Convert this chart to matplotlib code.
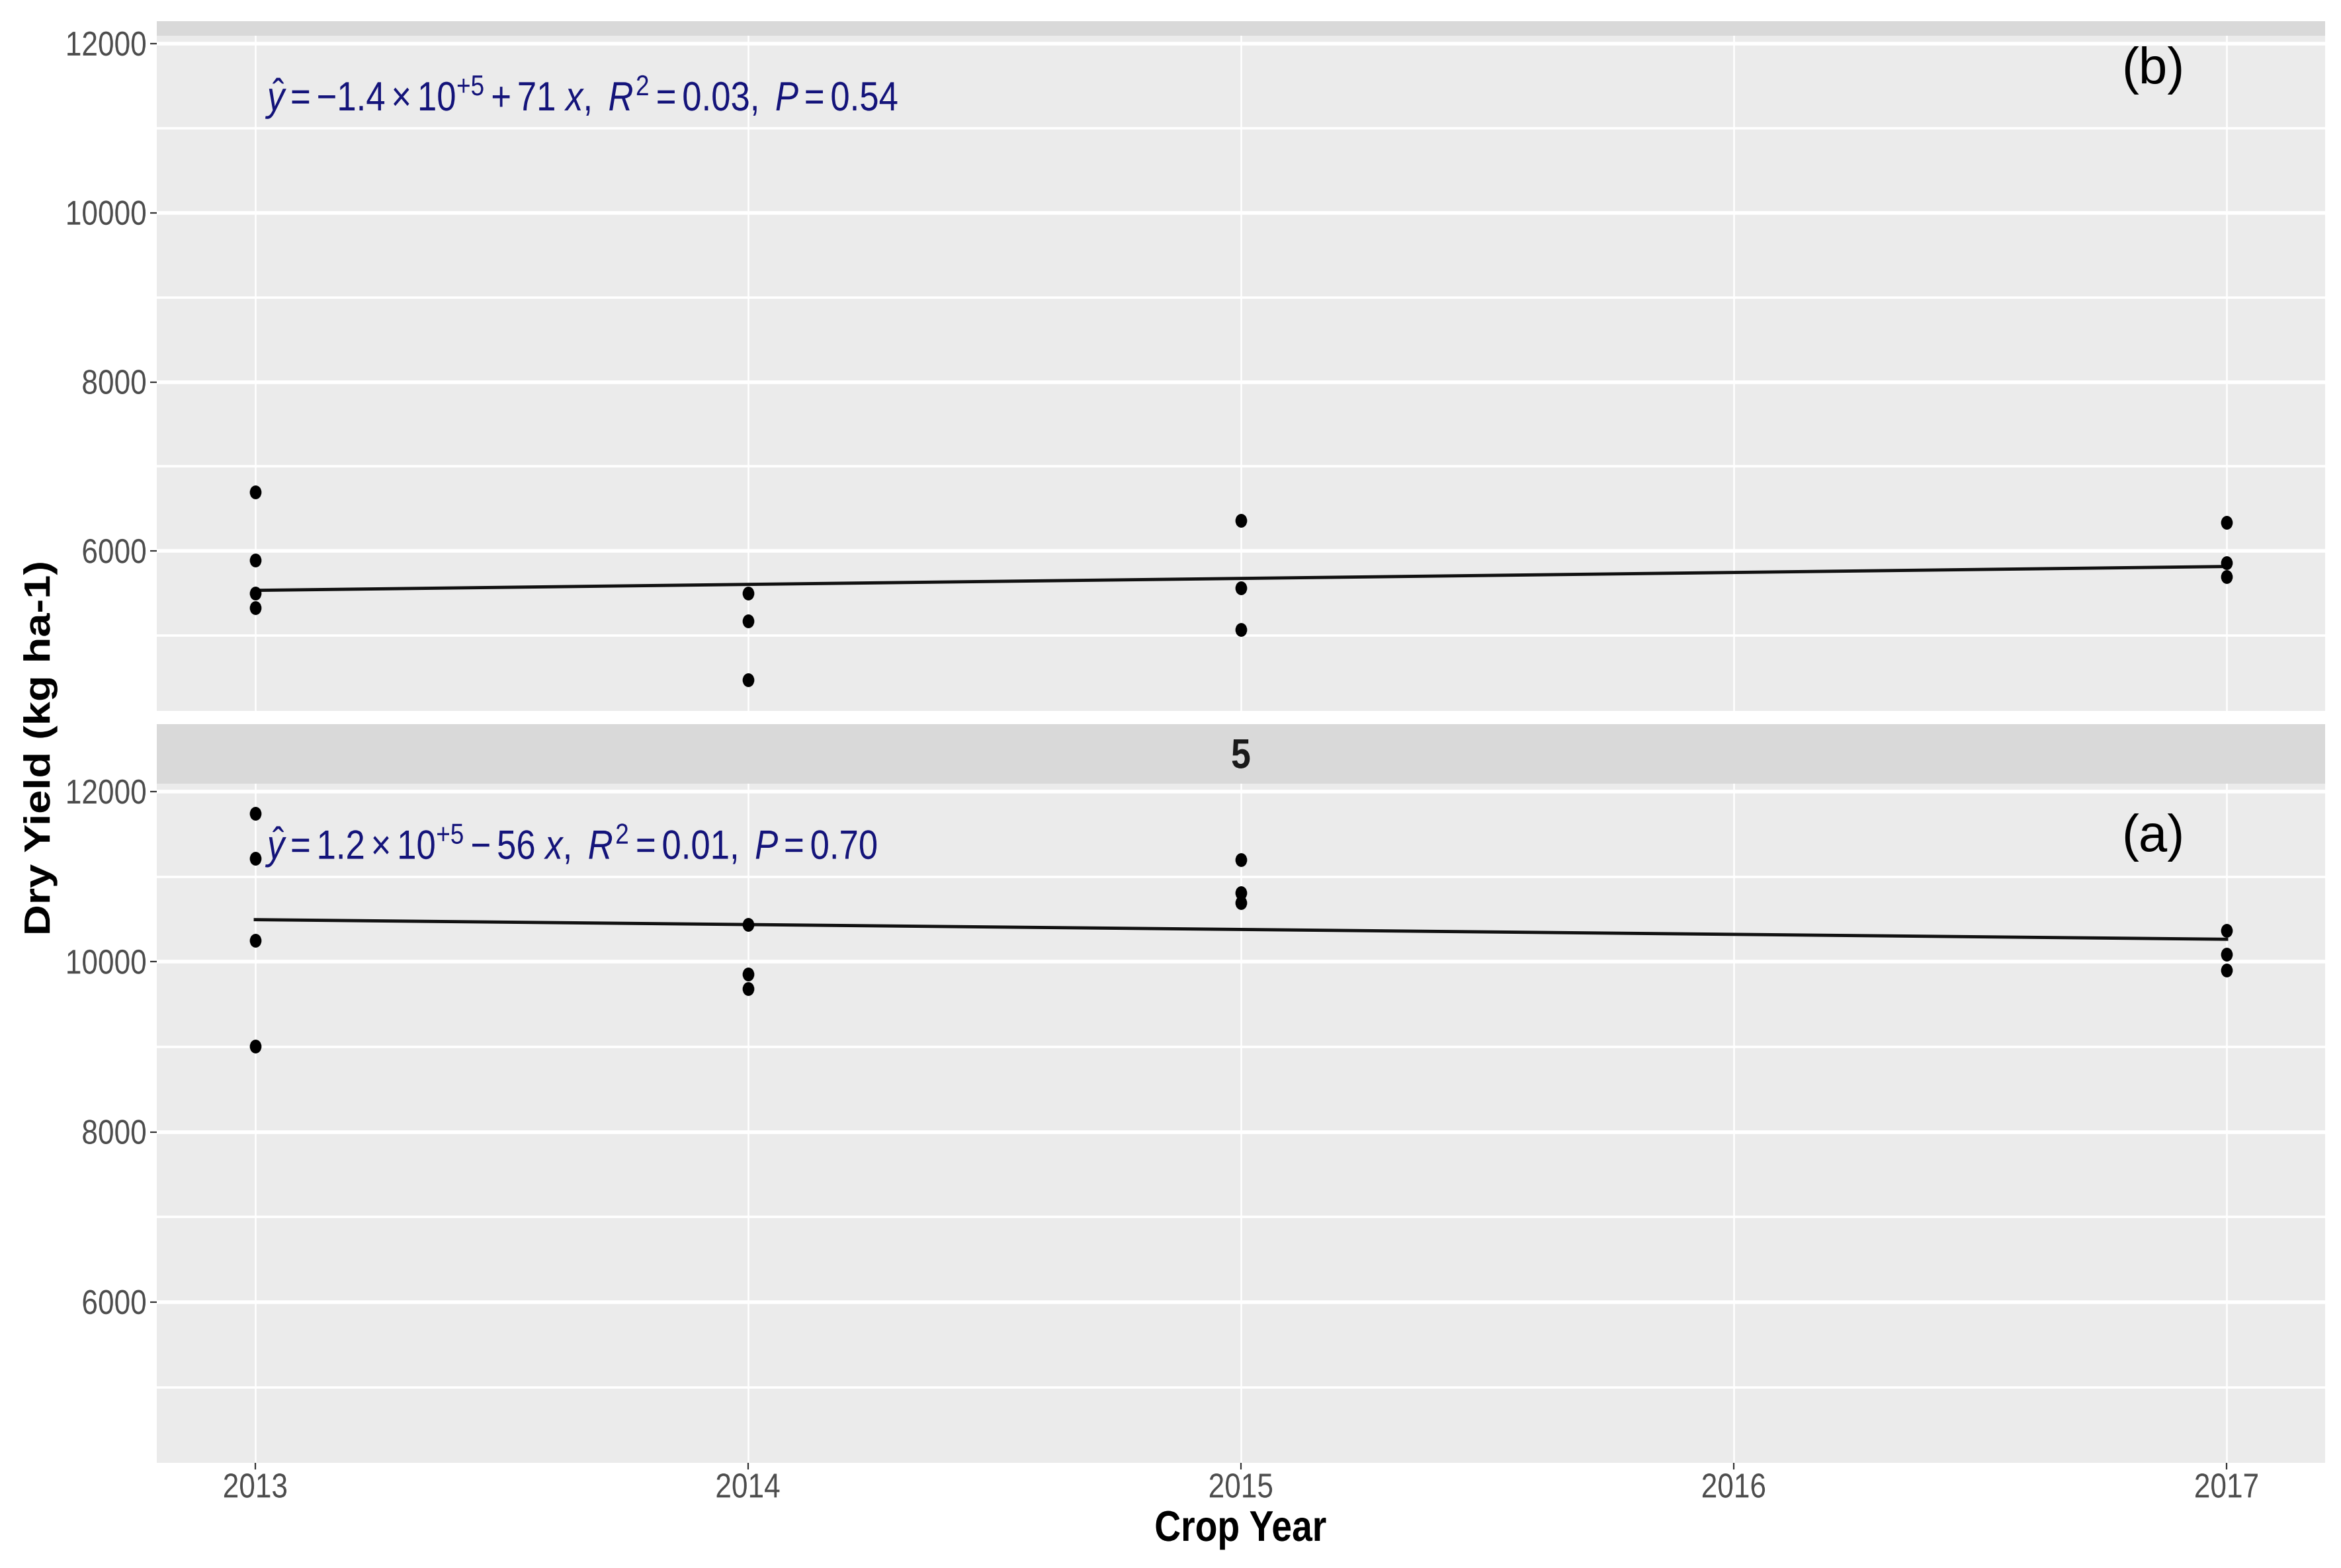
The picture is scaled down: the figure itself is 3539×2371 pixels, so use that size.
import numpy as np
import matplotlib
matplotlib.use('Agg')
import matplotlib.pyplot as plt
import matplotlib.font_manager as fm
from matplotlib.path import Path
from matplotlib.textpath import TextPath
from matplotlib.patches import PathPatch
from matplotlib.transforms import Affine2D, IdentityTransform
from matplotlib.ticker import FixedLocator

# values
years_b = [2013, 2013, 2013, 2013, 2014, 2014, 2014, 2015, 2015, 2015, 2017, 2017, 2017]
yield_b = [6695, 5891, 5500, 5328, 5500, 5172, 4477, 6359, 5563, 5070, 6336, 5859, 5695]
years_a = [2013, 2013, 2013, 2013, 2014, 2014, 2014, 2015, 2015, 2015, 2017, 2017, 2017]
yield_a = [11743, 11214, 10249, 9004, 10436, 9852, 9681, 11198, 10809, 10693, 10366, 10086, 9899]

eq_b = r'$\hat{y} = -1.4\times10^{+5}+71\ x,\ R^{2} = 0.03,\ P = 0.54$'
eq_a = r'$\hat{y} = 1.2\times10^{+5}-56\ x,\ R^{2} = 0.01,\ P = 0.70$'
strip_label = '5'
year_ticks = [2013, 2014, 2015, 2016, 2017]
yield_ticks = [6000, 8000, 10000, 12000]
yield_minor = [5000, 7000, 9000, 11000]

base = 'Liberation Sans'
plt.rcParams['font.family'] = [base, 'DejaVu Sans']
plt.rcParams['mathtext.fontset'] = 'custom'
plt.rcParams['mathtext.rm'] = base
plt.rcParams['mathtext.it'] = base + ':italic'
plt.rcParams['mathtext.bf'] = base + ':bold'

SQ = 0.85  # the original picture is squeezed sideways, text included

# slightly tall dot, like the stretched original
circ = Path.unit_circle()
dot = Path(circ.vertices * np.array([0.85, 1.0]), circ.codes)

W, H = 3539, 2371
fig = plt.figure(figsize=(W / 100, H / 100), dpi=100, facecolor='white')

def px_axes(x0, y0, x1, y1):
    return fig.add_axes([x0 / W, 1 - y1 / H, (x1 - x0) / W, (y1 - y0) / H])

def squeezed(x, y, s, em, ha='left', va='baseline', color='black', weight='normal', rotation=0):
    # x, y in output pixels, origin bottom-left
    prop = fm.FontProperties(family=base, weight=weight)
    p = TextPath((0, 0), s, size=em, prop=prop)
    p = Affine2D().rotate_deg(rotation).scale(SQ, 1).transform_path(p)
    ext = p.get_extents()
    dx = {'left': -ext.x0, 'right': -ext.x1, 'center': -(ext.x0 + ext.x1) / 2}[ha]
    dy = {'baseline': 0, 'center': -(ext.y0 + ext.y1) / 2, 'top': -ext.y1, 'bottom': -ext.y0}[va]
    p = Affine2D().translate(x + dx, y + dy).transform_path(p)
    fig.add_artist(PathPatch(p, transform=IdentityTransform(), fc=color, ec='none', lw=0))

def strip(ax):
    ax.set_facecolor('#D9D9D9')
    ax.set_xticks([])
    ax.set_yticks([])
    for s in ax.spines.values():
        s.set_visible(False)

def panel(ax, years, yields, eq, tag, tag_y):
    ax.set_facecolor('#EBEBEB')
    for s in ax.spines.values():
        s.set_visible(False)
    ax.set_xlim(2012.8, 2017.2)
    ax.set_ylim(4110, 12094)
    ax.set_xticks(year_ticks)
    ax.set_yticks(yield_ticks)
    ax.yaxis.set_minor_locator(FixedLocator(yield_minor))
    ax.grid(which='major', axis='y', color='white', lw=4)
    ax.grid(which='minor', axis='y', color='white', lw=2.6)
    ax.grid(which='major', axis='x', color='white', lw=1.8)
    ax.set_axisbelow(True)
    ax.tick_params(which='minor', length=0)
    ax.tick_params(which='major', length=7, width=1.6, color='#333333',
                   labelleft=False, labelbottom=False)

    coef = np.polyfit(years, yields, 1)
    xs = np.array([min(years), max(years)])
    ax.plot(xs, np.polyval(coef, xs), color='#111111', lw=3.5, zorder=2)
    ax.plot(years, yields, ls='none', marker=dot, ms=15, mfc='black', mec='black',
            mew=0, zorder=3)

    ax.text(2016.85, tag_y, tag, fontsize=56, color='black', ha='center', va='baseline')

    # y tick labels and the fit equation
    for v in yield_ticks:
        _, yd = ax.transData.transform((2013, v))
        squeezed(220, yd, str(v), 52, ha='right', va='center', color='#4D4D4D')
    ex, ey = ax.transData.transform((2013.02, 11210))
    squeezed(ex, ey, eq, 62, ha='left', va='baseline', color='#14147A')

ax_sb = px_axes(237, 32, 3515, 54)
strip(ax_sb)
ax_b = px_axes(237, 54, 3515, 1075)
panel(ax_b, years_b, yield_b, eq_b, '(b)', 11523)
ax_b.tick_params(axis='x', length=0)

ax_sa = px_axes(237, 1095, 3515, 1185)
strip(ax_sa)
ax_a = px_axes(237, 1185, 3515, 2212)
panel(ax_a, years_a, yield_a, eq_a, '(a)', 11300)

squeezed(1876, H - 1140, strip_label, 63, ha='center', va='center',
         color='#1A1A1A', weight='bold')

for yr in year_ticks:
    xd, _ = ax_a.transData.transform((yr, 5000))
    squeezed(xd, H - 2228, str(yr), 52, ha='center', va='top', color='#4D4D4D')

squeezed(1876, H - 2314, 'Crop Year', 65, ha='center', va='center', weight='bold')
squeezed(61, H - 1131, 'Dry Yield (kg ha-1)', 65, ha='center', va='center',
         weight='bold', rotation=90)

fig.savefig('out.png', dpi=100, facecolor='white')
